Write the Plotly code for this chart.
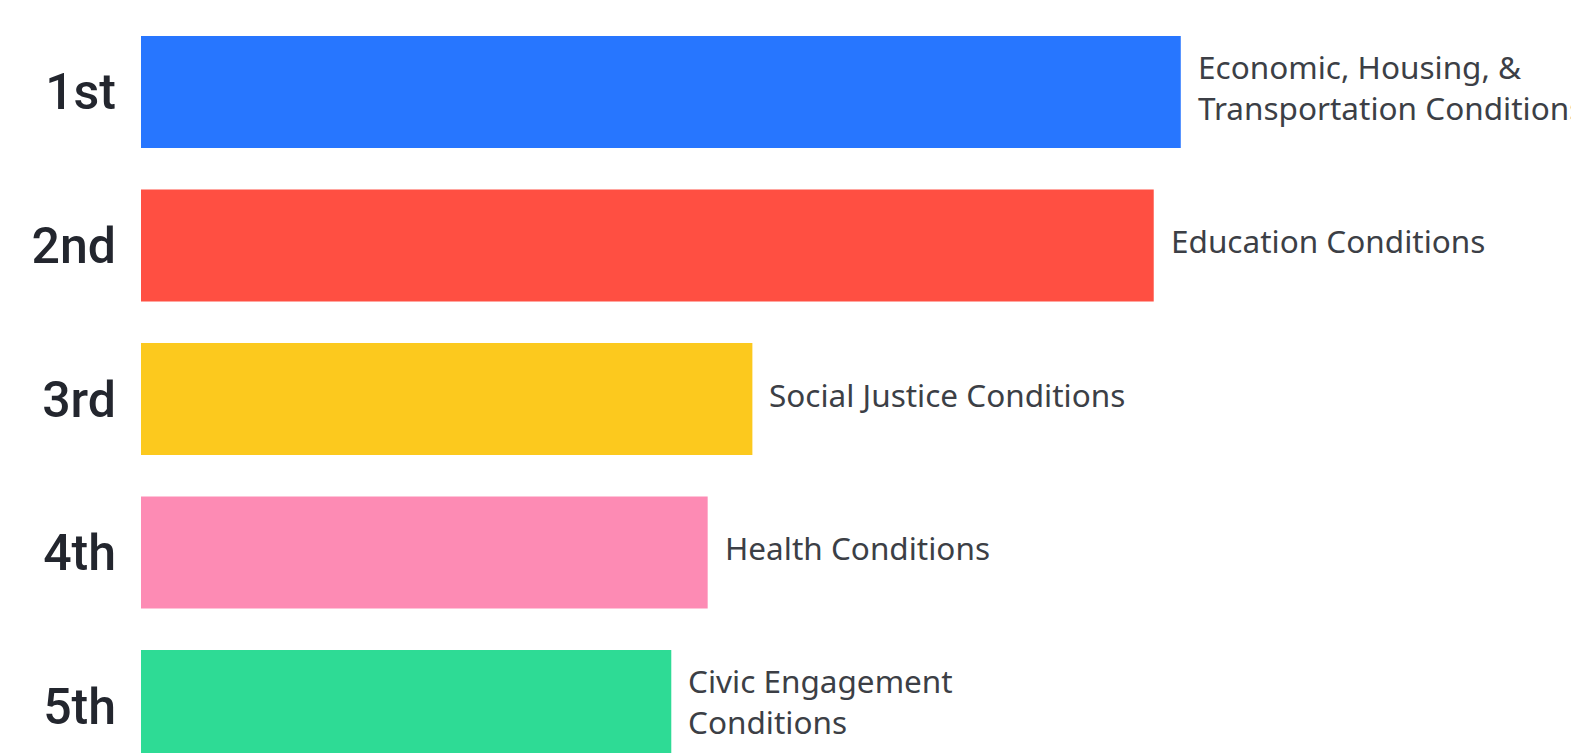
import plotly.graph_objects as go

ranks = ["1st", "2nd", "3rd", "4th", "5th"]
conditions = [
    "Economic, Housing, &<br>Transportation Conditions",
    "Education Conditions",
    "Social Justice Conditions",
    "Health Conditions",
    "Civic Engagement<br>Conditions",
]
scores = [100, 97.4, 58.8, 54.5, 51.0]
colors = ["#2776FF", "#FF4F42", "#FCC91E", "#FD8BB4", "#2EDB95"]

fig = go.Figure()
fig.add_trace(go.Bar(
    x=scores, y=ranks, orientation="h",
    marker=dict(color=colors, line=dict(width=0)),
    hoverinfo="skip",
))

for r, s, c in zip(ranks, scores, conditions):
    fig.add_annotation(
        x=s, y=r, text=c, showarrow=False, xanchor="left", yanchor="middle",
        xshift=15, yshift=5, align="left",
        font=dict(family="Noto Sans", size=31.5, color="#3c3f46"),
    )

fig.update_layout(
    width=1571, height=745,
    margin=dict(l=133, r=0, t=0, b=0, autoexpand=False),
    paper_bgcolor="white", plot_bgcolor="white",
    bargap=0.27, showlegend=False,
    xaxis=dict(range=[0, 138.3], visible=False, automargin=False),
    yaxis=dict(
        type="category", categoryorder="array", categoryarray=ranks,
        range=[4.306, -0.547], showgrid=False, zeroline=False, showline=False,
        ticks="", ticklabelstandoff=24, automargin=False,
        tickfont=dict(family="Roboto", size=50, color="#23262e", weight=500),
    ),
)

fig.write_html("out.html")
